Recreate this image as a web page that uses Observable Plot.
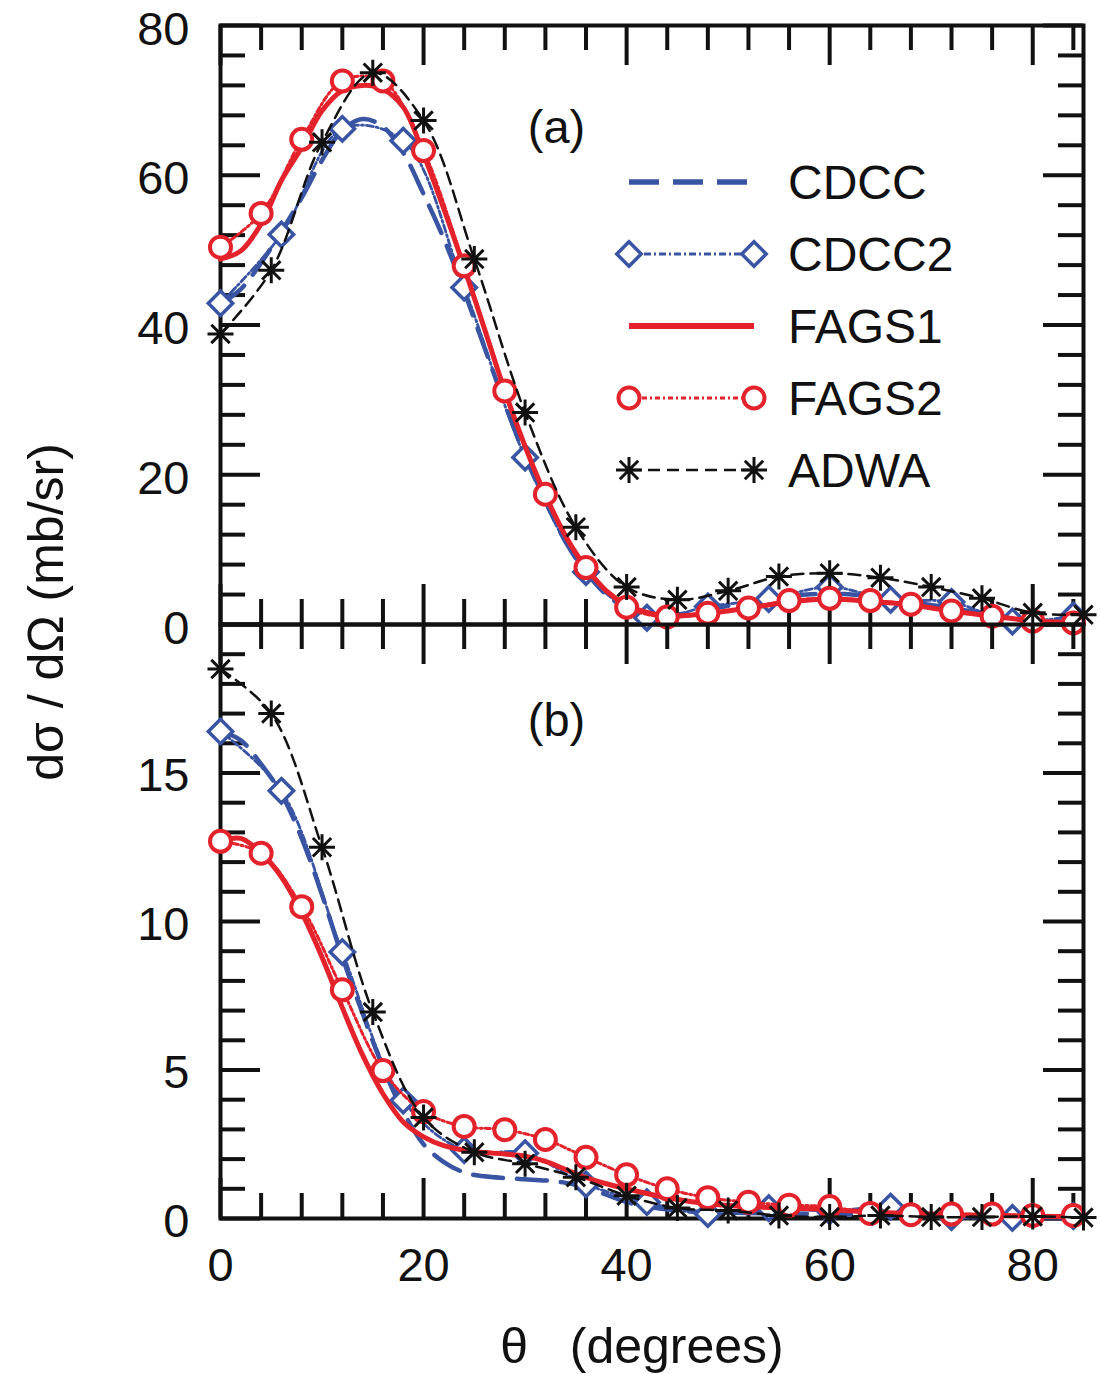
<!DOCTYPE html>
<html>
<head>
<meta charset="utf-8">
<script src="https://cdn.jsdelivr.net/npm/d3@7"></script>
<script src="https://cdn.jsdelivr.net/npm/@observablehq/plot@0.6"></script>
<style>
  html, body { margin: 0; padding: 0; background: #fff; }
  #fig { position: relative; width: 1100px; height: 1374px; font-family: "Liberation Sans", Arial, Helvetica, sans-serif; color: #111; overflow: hidden; }
  #fig .layer { position: absolute; left: 0; }
  #fig svg { overflow: visible; }
  .axis-title { position: absolute; white-space: pre; font-size: 50px; line-height: 1; transform: translate(-50%, -50%); }
</style>
</head>
<body>
<div id="fig"></div>
<script>
// ---------- Panel (a): cross sections, 0-80 mb/sr ----------
const a_thetaCDCC  = [0, 2, 4, 6, 8, 10, 12, 14, 16, 18, 20, 22, 24, 26, 28, 30, 32, 34, 36, 38, 40, 42, 44, 48, 52, 56, 60, 64, 68, 72, 76, 80, 85];
const a_CDCC       = [42.8, 44.8, 48.3, 52.5, 57.0, 62.0, 66.0, 67.5, 66.5, 63.0, 57.5, 51.5, 44.5, 37.0, 29.5, 22.5, 16.5, 11.0, 7.0, 4.0, 2.2, 1.3, 1.2, 2.0, 3.0, 3.8, 4.1, 3.8, 3.0, 2.2, 1.3, 0.6, 0.3];

const a_thetaCDCC2 = [0, 6, 12, 18, 24, 30, 36, 42, 48, 54, 60, 66, 72, 78, 84];
const a_CDCC2      = [42.9, 52.1, 66.2, 64.6, 45.0, 22.3, 7.0, 0.9, 2.4, 3.4, 5.0, 3.3, 3.0, 0.4, 1.2];

const a_thetaFAGS1 = [0, 2, 4, 6, 8, 10, 12, 14, 16, 18, 20, 22, 24, 26, 28, 30, 32, 34, 36, 38, 40, 42, 44, 48, 52, 56, 60, 64, 68, 72, 76, 80, 85];
const a_FAGS1      = [48.8, 49.9, 53.5, 59.3, 63.7, 68.6, 71.3, 72.0, 71.5, 69.1, 62.8, 55.5, 47.7, 39.5, 31.2, 23.8, 17.3, 11.8, 7.6, 4.5, 2.6, 1.6, 1.1, 1.5, 2.2, 3.0, 3.4, 3.1, 2.6, 1.8, 1.1, 0.5, 0.2];

const a_thetaFAGS2 = [0, 4, 8, 12, 16, 20, 24, 28, 32, 36, 40, 44, 48, 52, 56, 60, 64, 68, 72, 76, 80, 84];
const a_FAGS2      = [50.4, 54.9, 64.8, 72.6, 72.6, 63.3, 47.9, 31.2, 17.4, 7.6, 2.3, 1.0, 1.5, 2.2, 3.2, 3.5, 3.2, 2.7, 1.8, 1.1, 0.45, 0.2];

const a_thetaADWA  = [0, 5, 10, 15, 20, 25, 30, 35, 40, 45, 50, 55, 60, 65, 70, 75, 80, 85];
const a_ADWA       = [38.8, 47.3, 64.4, 73.7, 67.3, 48.8, 28.3, 13.0, 5.0, 3.3, 4.5, 6.4, 6.85, 6.25, 5.0, 3.5, 1.56, 1.3];

// ---------- Panel (b): cross sections, 0-20 mb/sr ----------
const b_thetaCDCC  = [0, 2, 4, 6, 8, 10, 12, 14, 16, 18, 20, 22, 24, 26, 28, 30, 32, 34, 36, 38, 40, 44, 50, 60, 70, 85];
const b_CDCC       = [16.4, 16.1, 15.3, 14.3, 12.8, 10.9, 8.8, 6.9, 5.1, 3.6, 2.5, 1.9, 1.55, 1.42, 1.36, 1.32, 1.28, 1.2, 1.05, 0.8, 0.55, 0.3, 0.2, 0.15, 0.08, 0.03];

const b_thetaCDCC2 = [0, 6, 12, 18, 24, 30, 36, 42, 48, 54, 60, 66, 72, 78, 84];
const b_CDCC2      = [16.4, 14.4, 8.97, 3.97, 2.3, 2.2, 1.15, 0.55, 0.15, 0.35, 0.25, 0.4, 0.05, 0.02, 0.08];

const b_thetaFAGS1 = [0, 2, 4, 6, 8, 10, 12, 14, 16, 18, 20, 22, 24, 26, 28, 30, 32, 34, 36, 38, 40, 44, 48, 52, 56, 60, 65, 70, 75, 80, 85];
const b_FAGS1      = [12.7, 12.8, 12.3, 11.5, 10.3, 8.8, 7.1, 5.5, 4.2, 3.25, 2.75, 2.45, 2.3, 2.22, 2.17, 2.1, 1.92, 1.65, 1.38, 1.17, 1.0, 0.7, 0.5, 0.4, 0.35, 0.3, 0.2, 0.15, 0.1, 0.08, 0.05];

const b_thetaFAGS2 = [0, 4, 8, 12, 16, 20, 24, 28, 32, 36, 40, 44, 48, 52, 56, 60, 64, 68, 72, 76, 80, 84];
const b_FAGS2      = [12.7, 12.3, 10.5, 7.7, 4.98, 3.6, 3.1, 2.99, 2.66, 2.06, 1.47, 1.0, 0.7, 0.55, 0.45, 0.4, 0.17, 0.13, 0.15, 0.15, 0.1, 0.1];

const b_thetaADWA  = [0, 5, 10, 15, 20, 25, 30, 35, 40, 45, 50, 55, 60, 65, 70, 75, 80, 85];
const b_ADWA       = [18.5, 17.0, 12.5, 6.95, 3.4, 2.23, 1.84, 1.39, 0.77, 0.35, 0.27, 0.1, 0.05, 0.1, 0.05, 0.05, 0.07, 0.03];

// ---------- Axes ----------
const thetaDomain  = [0, 85];
const xLabels      = [0, 20, 40, 60, 80];
const xMajorTicks  = [0, 20, 40, 60, 80];
const xMinorTicks  = [4, 8, 12, 16, 24, 28, 32, 36, 44, 48, 52, 56, 64, 68, 72, 76, 84];
const aYLabels     = [0, 20, 40, 60, 80];
const aYMajorTicks = [0, 20, 40, 60, 80];
const aYMinorTicks = [4, 8, 12, 16, 24, 28, 32, 36, 44, 48, 52, 56, 64, 68, 72, 76];
const bYLabels     = [0, 5, 10, 15];
const bYMajorTicks = [0, 5, 10, 15, 20];
const bYMinorTicks = [1, 2, 3, 4, 6, 7, 8, 9, 11, 12, 13, 14, 16, 17, 18, 19];
const seriesNames  = ["CDCC", "CDCC2", "FAGS1", "FAGS2", "ADWA"];

// ---------- Styling ----------
const FONT = '"Liberation Sans", Arial, Helvetica, sans-serif';
const BLUE = "#3a54a4", RED = "#e4222b", INK = "#111111";
const W = 1100, ML = 220, MR = 17;
const FW = W - ML - MR;          // frame width in px
const MINOR = 25, MAJOR = 40;    // inward tick lengths

// eight-armed asterisk marker
const asterisk8 = {
  draw(ctx, size) {
    const r = Math.sqrt(size / Math.PI);
    for (let k = 0; k < 4; k++) {
      const a = k * Math.PI / 4, dx = r * Math.cos(a), dy = r * Math.sin(a);
      ctx.moveTo(-dx, -dy); ctx.lineTo(dx, dy);
    }
  }
};

const STYLE = {
  CDCC:  {line: {stroke: BLUE, strokeWidth: 4.5, strokeDasharray: "30,14"}},
  CDCC2: {line: {stroke: BLUE, strokeWidth: 2.8, strokeDasharray: "7,3,2,3"},
          dot: {symbol: "diamond2", r: 11, stroke: BLUE, strokeWidth: 3.5, fill: "white"}},
  FAGS1: {line: {stroke: RED, strokeWidth: 5}},
  FAGS2: {line: {stroke: RED, strokeWidth: 3, strokeDasharray: "5,3,2,3"},
          dot: {symbol: "circle", r: 10.5, stroke: RED, strokeWidth: 4, fill: "white"}},
  ADWA:  {line: {stroke: INK, strokeWidth: 2.5, strokeDasharray: "12,7"},
          dot: {symbol: asterisk8, r: 13, stroke: INK, strokeWidth: 3, fill: "none"}}
};

const rows = (theta, values) => theta.map((t, i) => ({theta: t, value: values[i]}));

function frameMarks(frameH, yMajor, yMinor) {
  const s = {stroke: INK, strokeWidth: 4};
  return [
    Plot.tickY(yMinor, {y: d => d, insetRight: FW - MINOR, ...s}),
    Plot.tickY(yMajor, {y: d => d, insetRight: FW - MAJOR, ...s}),
    Plot.tickY(yMinor, {y: d => d, insetLeft: FW - MINOR, ...s}),
    Plot.tickY(yMajor, {y: d => d, insetLeft: FW - MAJOR, ...s}),
    Plot.tickX(xMinorTicks, {x: d => d, insetBottom: frameH - MINOR, ...s}),
    Plot.tickX(xMajorTicks, {x: d => d, insetBottom: frameH - MAJOR, ...s}),
    Plot.tickX(xMinorTicks, {x: d => d, insetTop: frameH - MINOR, ...s}),
    Plot.tickX(xMajorTicks, {x: d => d, insetTop: frameH - MAJOR, ...s}),
    Plot.frame({stroke: INK, strokeWidth: 4})
  ];
}

function seriesMarks(S) {
  const xy = {x: "theta", y: "value"};
  const curve = {curve: "catmull-rom", strokeLinejoin: "round"};
  return [
    Plot.line(S.CDCC, {...xy, ...curve, ...STYLE.CDCC.line}),
    Plot.line(S.CDCC2, {...xy, ...curve, ...STYLE.CDCC2.line}),
    Plot.dot(S.CDCC2, {...xy, ...STYLE.CDCC2.dot}),
    Plot.line(S.FAGS1, {...xy, ...curve, ...STYLE.FAGS1.line}),
    Plot.line(S.FAGS2, {...xy, ...curve, ...STYLE.FAGS2.line}),
    Plot.dot(S.FAGS2, {...xy, ...STYLE.FAGS2.dot}),
    Plot.line(S.ADWA, {...xy, ...curve, ...STYLE.ADWA.line}),
    Plot.dot(S.ADWA, {...xy, ...STYLE.ADWA.dot})
  ];
}

const svgStyle = {background: "transparent", fontFamily: FONT, fontSize: "47px", color: INK, overflow: "visible"};

const panelA = Plot.plot({
  width: W, height: 30 + 599 + 40,
  marginLeft: ML, marginRight: MR, marginTop: 30, marginBottom: 40,
  x: {domain: thetaDomain, axis: null},
  y: {domain: [0, 80]},
  style: svgStyle,
  marks: [
    ...frameMarks(599, aYMajorTicks, aYMinorTicks),
    Plot.axisY({ticks: aYLabels, tickSize: 0, tickPadding: 31, dy: 4, label: null, fill: INK}),
    ...seriesMarks({
      CDCC: rows(a_thetaCDCC, a_CDCC), CDCC2: rows(a_thetaCDCC2, a_CDCC2),
      FAGS1: rows(a_thetaFAGS1, a_FAGS1), FAGS2: rows(a_thetaFAGS2, a_FAGS2),
      ADWA: rows(a_thetaADWA, a_ADWA)
    }),
    Plot.text(["(a)"], {text: d => d, frameAnchor: "top-left", dx: 336, dy: 102, textAnchor: "middle", lineAnchor: "middle", fill: INK})
  ]
});

const panelB = Plot.plot({
  width: W, height: 40 + 594 + 90,
  marginLeft: ML, marginRight: MR, marginTop: 40, marginBottom: 90,
  x: {domain: thetaDomain},
  y: {domain: [0, 20]},
  style: svgStyle,
  marks: [
    ...frameMarks(594, bYMajorTicks, bYMinorTicks),
    Plot.axisY({ticks: bYLabels, tickSize: 0, tickPadding: 31, dy: 3, label: null, fill: INK}),
    Plot.axisX({ticks: xLabels, tickSize: 0, tickPadding: 29, label: null, fill: INK}),
    ...seriesMarks({
      CDCC: rows(b_thetaCDCC, b_CDCC), CDCC2: rows(b_thetaCDCC2, b_CDCC2),
      FAGS1: rows(b_thetaFAGS1, b_FAGS1), FAGS2: rows(b_thetaFAGS2, b_FAGS2),
      ADWA: rows(b_thetaADWA, b_ADWA)
    }),
    Plot.text(["(b)"], {text: d => d, frameAnchor: "top-left", dx: 336, dy: 96, textAnchor: "middle", lineAnchor: "middle", fill: INK})
  ]
});

const fig = document.getElementById("fig");
function addLayer(node, top) {
  const div = document.createElement("div");
  div.className = "layer";
  div.style.top = top + "px";
  div.appendChild(node);
  fig.appendChild(div);
}
// panel (a) frame spans 25..624, panel (b) frame spans 624..1218
addLayer(panelA, -5);
addLayer(panelB, 624 - 40);

// Legend inside panel (a)
const legend = d3.create("svg").attr("width", W).attr("height", 520)
  .style("font-family", FONT).style("font-size", "48px");
const legendX0 = 629, legendX1 = 754, legendTextX = 788, legendY0 = 182, legendDY = 72;
seriesNames.forEach((name, i) => {
  const y = legendY0 + i * legendDY, st = STYLE[name];
  const g = legend.append("g");
  g.append("line").attr("x1", legendX0).attr("x2", legendX1).attr("y1", y).attr("y2", y)
    .attr("stroke", st.line.stroke).attr("stroke-width", st.line.strokeWidth + (name === "FAGS1" || name === "CDCC" ? 1 : 0))
    .attr("stroke-dasharray", st.line.strokeDasharray || null);
  if (st.dot) {
    const type = st.dot.symbol === "diamond2" ? d3.symbolDiamond2 : st.dot.symbol === "circle" ? d3.symbolCircle : st.dot.symbol;
    const path = d3.symbol(type, Math.PI * st.dot.r * st.dot.r)();
    [legendX0, legendX1].forEach(x => g.append("path").attr("d", path)
      .attr("transform", `translate(${x},${y})`)
      .attr("fill", st.dot.fill).attr("stroke", st.dot.stroke).attr("stroke-width", st.dot.strokeWidth));
  }
  g.append("text").attr("x", legendTextX).attr("y", y).attr("dy", "0.36em").attr("fill", INK).text(name);
});
addLayer(legend.node(), 0);

// Axis titles
const yTitle = document.createElement("div");
yTitle.className = "axis-title";
yTitle.textContent = "dσ / dΩ (mb/sr)";
yTitle.style.left = "46px"; yTitle.style.top = "612px";
yTitle.style.transform = "translate(-50%, -50%) rotate(-90deg)";
fig.appendChild(yTitle);

const xTitle = document.createElement("div");
xTitle.className = "axis-title";
xTitle.textContent = "θ   (degrees)";
xTitle.style.left = "642px"; xTitle.style.top = "1346px";
fig.appendChild(xTitle);
</script>
</body>
</html>
